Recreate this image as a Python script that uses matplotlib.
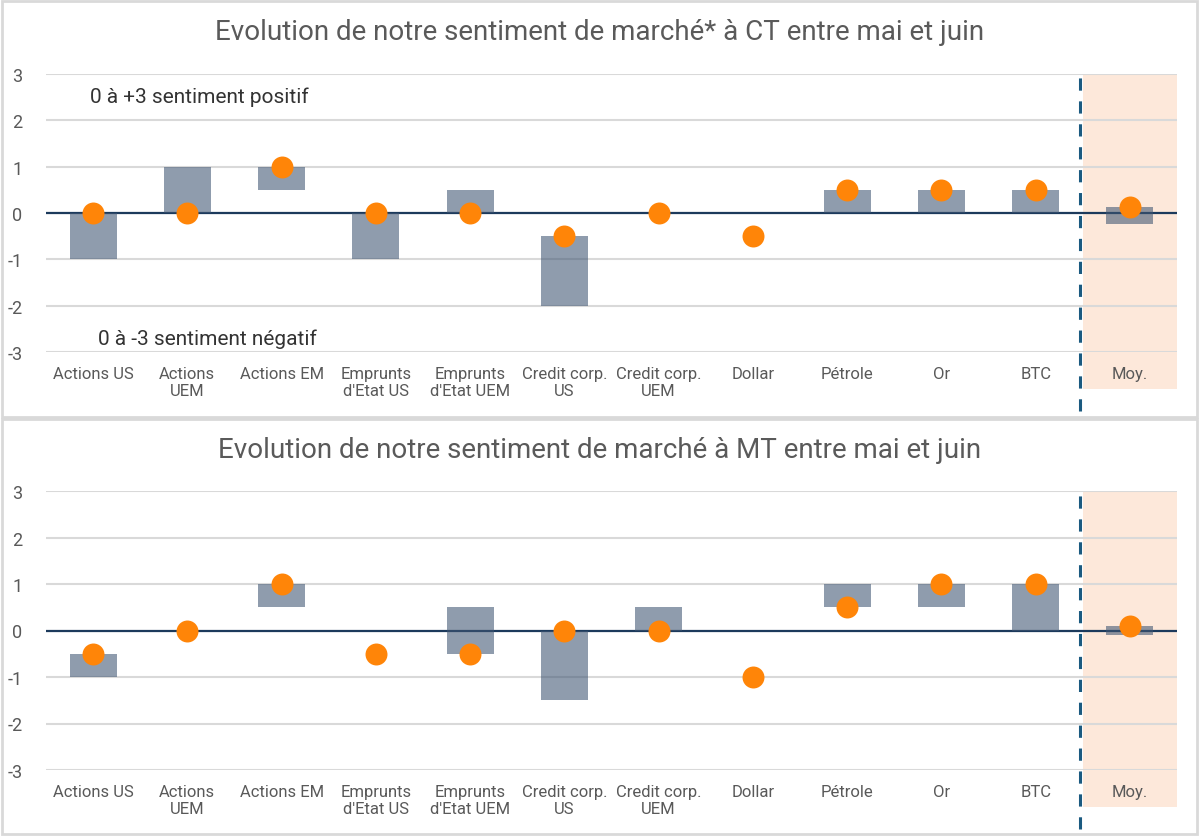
import numpy as np
import matplotlib
matplotlib.use("Agg")
import matplotlib.pyplot as plt
from matplotlib.patches import Rectangle

plt.rcParams['font.family'] = ['Roboto', 'DejaVu Sans']
plt.rcParams['axes.unicode_minus'] = False

categories = ["Actions US", "Actions\nUEM", "Actions EM", "Emprunts\nd'Etat US",
              "Emprunts\nd'Etat UEM", "Credit corp.\nUS", "Credit corp.\nUEM",
              "Dollar", "Pétrole", "Or", "BTC", "Moy."]

# sentiment en mai (debut de barre) et en juin (point)
ct_mai = [-1, 1, 0.5, -1, 0.5, -2, 0, -0.5, 0, 0, 0, -0.23]
ct_juin = [0, 0, 1, 0, 0, -0.5, 0, -0.5, 0.5, 0.5, 0.5, 0.14]
mt_mai = [-1, 0, 0.5, -0.5, 0.5, -1.5, 0.5, -1, 1, 0.5, 0, -0.09]
mt_juin = [-0.5, 0, 1, -0.5, -0.5, 0, 0, -1, 0.5, 1, 1, 0.09]

titles = ["Evolution de notre sentiment de marché* à CT entre mai et juin",
          "Evolution de notre sentiment de marché à MT entre mai et juin"]

W, H = 1200, 837
fig = plt.figure(figsize=(12, 8.37), dpi=100)

def fy(py):
    return 1 - py / H

# cadres des deux panneaux
for top, bot in [(2, 418), (420, 835)]:
    fig.patches.append(Rectangle((2 / W, fy(bot)), 1195 / W, (bot - top) / H,
                                 transform=fig.transFigure, fill=False,
                                 edgecolor="#d9d9d9", linewidth=2))

panels = [(ct_mai, ct_juin, 75, 353, 33), (mt_mai, mt_juin, 492, 771, 451)]

for i, (mai, juin, ytop, ybot, ytitle) in enumerate(panels):
    ax = fig.add_axes([46 / W, fy(ybot), 1131 / W, (ybot - ytop) / H])
    x = np.arange(len(categories))
    mai = np.array(mai)
    juin = np.array(juin)
    lo = np.minimum(mai, juin)
    hi = np.maximum(mai, juin)

    ax.axvspan(10.5, 11.5, ymin=-(37 / 278), ymax=1, color="#fde8da",
               clip_on=False, zorder=0, linewidth=0)
    ax.set_ylim(-3, 3)
    ax.set_xlim(-0.5, 11.5)
    ax.set_yticks(range(-3, 4))
    ax.grid(axis="y", color="#d9d9d9", linewidth=1.5, zorder=1)
    ax.axhline(0, color="#1c3a5c", linewidth=1.6, zorder=2)
    ax.bar(x, hi - lo, bottom=lo, width=0.5, color="#3f5572", alpha=0.58,
           zorder=3, linewidth=0)
    ax.scatter(x, juin, s=250, color="#ff8508", zorder=4, linewidths=0)
    ax.axvline(10.47, ymin=-(59 / 278), ymax=0.99, color="#1b5a80",
               linestyle=(0, (4, 3.5)), linewidth=2.2, clip_on=False, zorder=5)

    ax.set_xticks(x)
    ax.set_xticklabels(categories, fontsize=12, color="#595959",
                       linespacing=1.2)
    ax.tick_params(axis="x", length=0, pad=10)
    ax.tick_params(axis="y", length=0, pad=17, labelsize=13,
                   labelcolor="#595959")
    for s in ax.spines.values():
        s.set_visible(False)
    ax.set_facecolor("none")

    fig.text(0.5, fy(ytitle), titles[i], ha="center", va="center",
             fontsize=20, color="#5a5a5a")

    if i == 0:
        ax.text(-0.03, 2.52, "0 à +3 sentiment positif", fontsize=15,
                color="#333333", va="center", ha="left")
        ax.text(0.05, -2.70, "0 à -3 sentiment négatif", fontsize=15,
                color="#333333", va="center", ha="left")

fig.savefig("out.png", dpi=100)
